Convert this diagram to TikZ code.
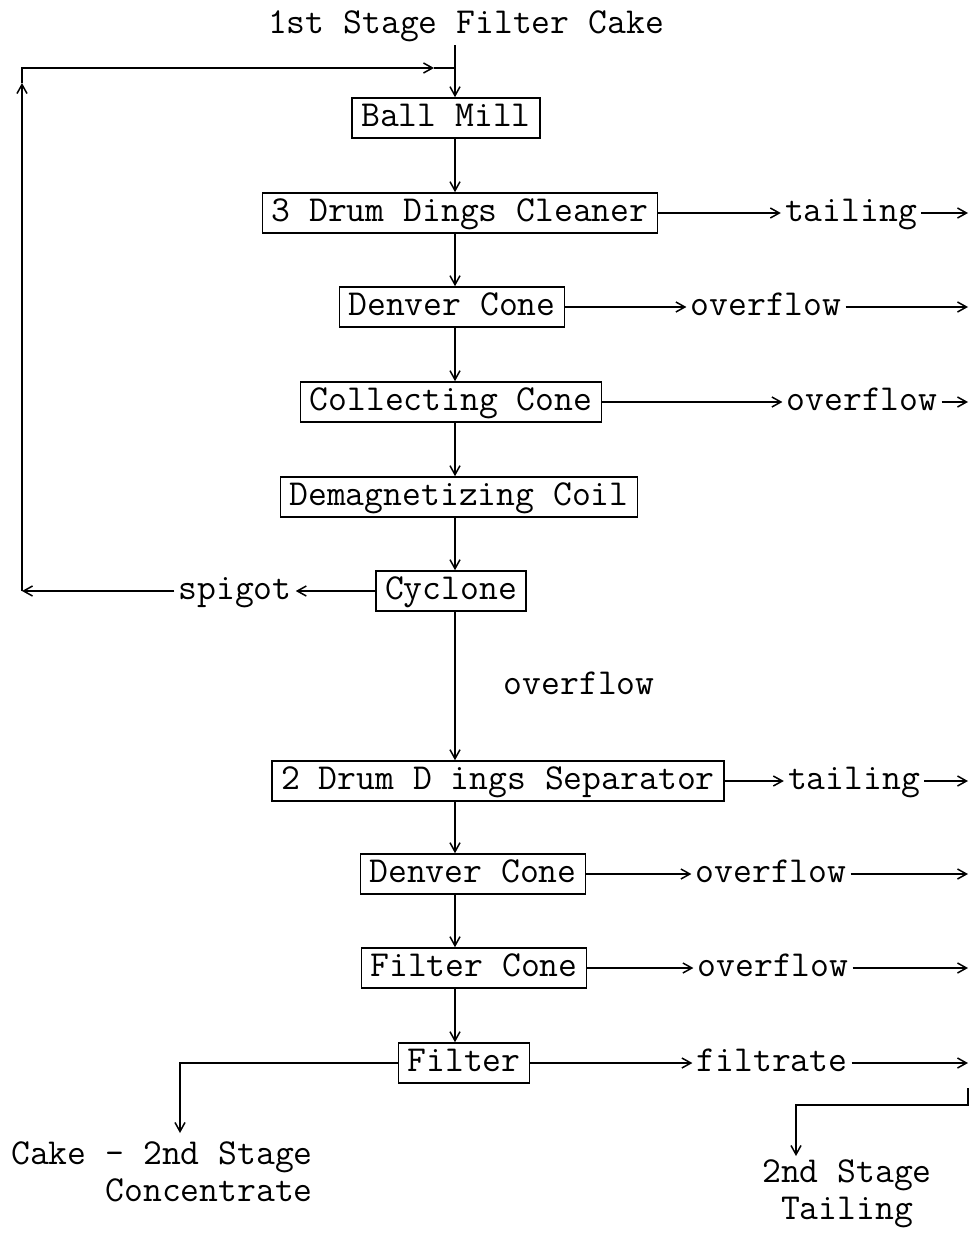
\documentclass[tikz,border=0pt]{standalone}
\usepackage{tikz}
\usetikzlibrary{arrows.meta, positioning, calc}
\newcommand{\typewr}{\fontsize{36.6pt}{37pt}\selectfont\ttfamily}
\tikzset{
    unit/.style={
        rectangle,
        draw,
        line width=1.6pt,
        inner xsep=9pt,
        inner ysep=4pt,
        text height=24pt,
        text depth=8pt,
        font=\typewr
    },
    tag/.style={
        inner xsep=4pt,
        inner ysep=4pt,
        text height=24pt,
        text depth=8pt,
        font=\typewr
    },
    note/.style={
        inner sep=0pt,
        font=\typewr
    },
    flow/.style={
        ->,
        line width=1.5pt
    }
}

\begin{document}
\begin{tikzpicture}[
        x=1pt, y=-1pt,
        >={Straight Barb[length=9pt,width=10pt]}
    ]
        \useasboundingbox (0,0) rectangle (971,1237);

        \coordinate (spine) at (455,0);
        \coordinate (edge) at (968,0);

        % process units
        \node[unit] (mill)      at (446,118)  {Ball Mill};
        \node[unit] (cleaner)   at (460,213)  {3 Drum Dings Cleaner};
        \node[unit] (denver)    at (452,307)  {Denver Cone};
        \node[unit] (collect)   at (451,402)  {Collecting Cone};
        \node[unit] (demag)     at (459,497)  {Demagnetizing Coil};
        \node[unit] (cyclone)   at (451,591)  {Cyclone};
        \node[unit] (separator) at (498,781)  {2 Drum D ings Separator};
        \node[unit] (denvertwo) at (473,874)  {Denver Cone};
        \node[unit] (filtcone)  at (474,968)  {Filter Cone};
        \node[unit] (filter)    at (464,1063) {Filter};

        % labels
        \node[tag] (feed)     at (466,25)   {1st Stage Filter Cake};
        \node[tag] (tailone)  at (851,213)  {tailing};
        \node[tag] (overone)  at (766,307)  {overflow};
        \node[tag] (overtwo)  at (862,402)  {overflow};
        \node[tag] (spigot)   at (235,591)  {spigot};
        \node[tag] (tailtwo)  at (854,781)  {tailing};
        \node[tag] (overfour) at (771,874)  {overflow};
        \node[tag] (overfive) at (773,968)  {overflow};
        \node[tag] (filtrate) at (772,1063) {filtrate};

        \node[note, align=right, anchor=east] (cake) at (313,1172) {Cake - 2nd Stage\\Concentrate};
        \node[note, align=center] (tailing) at (847,1194) {2nd Stage\\Tailing};

        % main line
        \draw[flow] (feed.south -| spine) -- (mill.north -| spine);
        \draw[flow] (mill.south -| spine) -- (cleaner.north -| spine);
        \draw[flow] (cleaner.south -| spine) -- (denver.north -| spine);
        \draw[flow] (denver.south -| spine) -- (collect.north -| spine);
        \draw[flow] (collect.south -| spine) -- (demag.north -| spine);
        \draw[flow] (demag.south -| spine) -- (cyclone.north -| spine);
        \draw[flow] (cyclone.south -| spine) -- node[tag, right=44pt] (overthree) {overflow} (separator.north -| spine);
        \draw[flow] (separator.south -| spine) -- (denvertwo.north -| spine);
        \draw[flow] (denvertwo.south -| spine) -- (filtcone.north -| spine);
        \draw[flow] (filtcone.south -| spine) -- (filter.north -| spine);

        % spigot return to ball mill
        \coordinate (loopbl) at (22,591);
        \coordinate (uptip)  at (22,83);
        \coordinate (looptl) at (22,68);
        \coordinate (rtip)   at (434,68);
        \draw[flow] (cyclone.west) -- (spigot.east);
        \draw[flow] (spigot.west) -- (loopbl);
        \draw[flow] (loopbl) -- (uptip);
        \draw[flow] (uptip) -- (looptl) -- (rtip);
        \draw[line width=1.5pt] (rtip) -- (rtip -| spine);

        % side streams
        \foreach \src/\lab in {cleaner/tailone, denver/overone, collect/overtwo,
                separator/tailtwo, denvertwo/overfour, filtcone/overfive, filter/filtrate} {
            \draw[flow] (\src.east) -- (\lab.west);
            \draw[flow] (\lab.east) -- (\lab.east -| edge);
        }

        % products
        \coordinate (caketip) at (180,1133);
        \draw[flow] (filter.west) -| (caketip);

        \coordinate (tailtop) at (968,1088);
        \coordinate (tailtip) at (796,1156);
        \draw[flow] (tailtop) -- ++(0,17) -| (tailtip);
    \end{tikzpicture}
\end{document}
